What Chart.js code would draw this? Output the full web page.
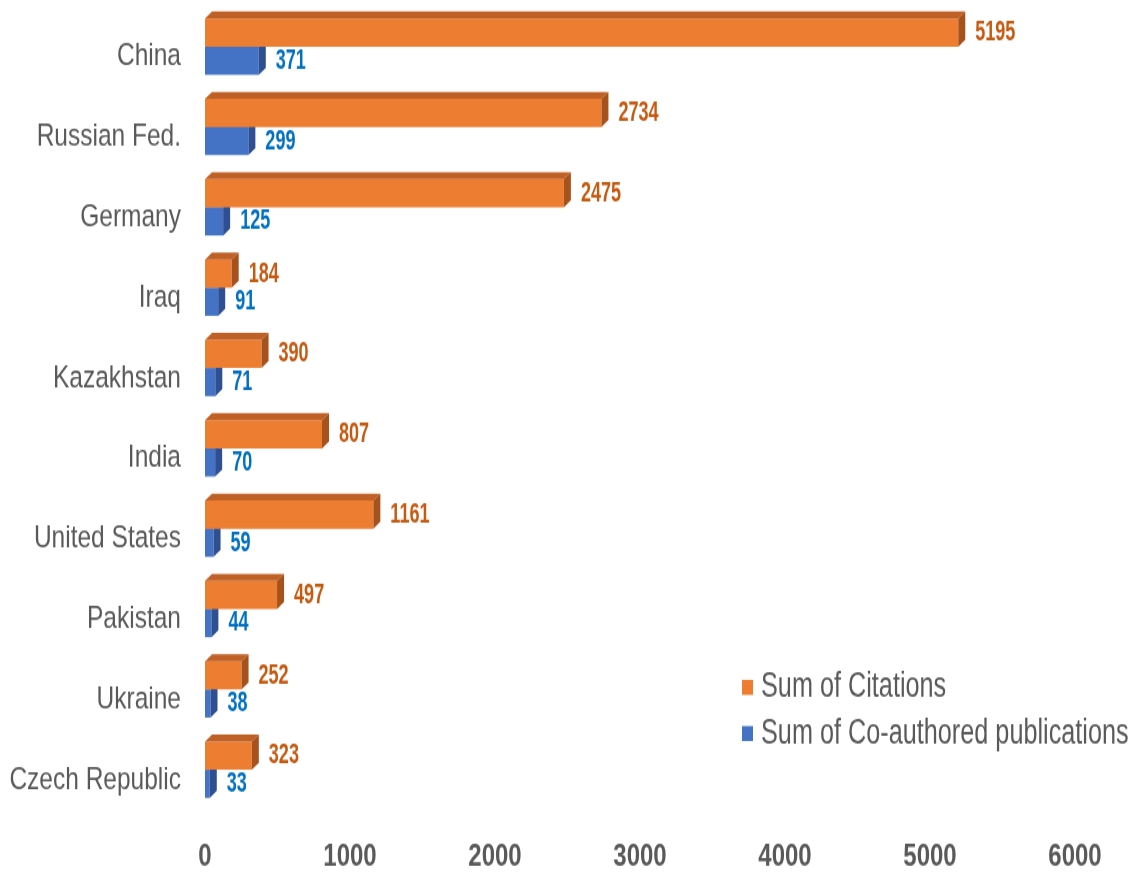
<!DOCTYPE html>
<html>
<head>
<meta charset="utf-8">
<script src="https://cdn.jsdelivr.net/npm/chart.js@4.4.0/dist/chart.umd.min.js"></script>
<style>
  html, body { margin: 0; padding: 0; background: #fff; }
  #wrap { width: 1138px; height: 880px; }
  /* the original picture is stretched vertically, so draw flat and stretch */
  #myChart { transform: scaleY(1.3); transform-origin: 0 0; }
</style>
</head>
<body>
<div id="wrap"><canvas id="myChart" width="1138" height="677"></canvas></div>
<script>
const countries = ['China', 'Russian Fed.', 'Germany', 'Iraq', 'Kazakhstan', 'India',
  'United States', 'Pakistan', 'Ukraine', 'Czech Republic'];
const citations = [5195, 2734, 2475, 184, 390, 807, 1161, 497, 252, 323];
const coauthored = [371, 299, 125, 91, 71, 70, 59, 44, 38, 33];
const xTicks = [0, 1000, 2000, 3000, 4000, 5000, 6000];

const sans = "'Liberation Sans', Arial, sans-serif";
const DX = 7, DY = 5.4; // depth of the fake 3D faces

// top face, right face and value label of every bar
const faces = {
  id: 'faces',
  afterDatasetDraw(chart, args) {
    const ds = chart.data.datasets[args.index];
    const ctx = chart.ctx;
    args.meta.data.forEach((bar, i) => {
      const p = bar.getProps(['x', 'y', 'base', 'height'], true);
      const top = p.y - p.height / 2, bot = p.y + p.height / 2;
      ctx.save();
      ctx.fillStyle = ds.topColor;
      ctx.beginPath();
      ctx.moveTo(p.base, top);
      ctx.lineTo(p.x, top);
      ctx.lineTo(p.x + DX, top - DY);
      ctx.lineTo(p.base + DX, top - DY);
      ctx.closePath();
      ctx.fill();
      ctx.fillStyle = ds.sideColor;
      ctx.beginPath();
      ctx.moveTo(p.x, top);
      ctx.lineTo(p.x + DX, top - DY);
      ctx.lineTo(p.x + DX, bot - DY);
      ctx.lineTo(p.x, bot);
      ctx.closePath();
      ctx.fill();
      // narrow bold value label
      ctx.translate(p.x + DX + 10, p.y);
      ctx.scale(0.82, 1);
      ctx.fillStyle = ds.labelColor;
      ctx.font = 'bold 22px ' + sans;
      ctx.textBaseline = 'middle';
      ctx.textAlign = 'left';
      ctx.fillText(ds.data[i], 0, 0);
      ctx.restore();
    });
  }
};

// legend inside the plot, bottom right
const legendBox = {
  id: 'legendBox',
  afterDraw(chart) {
    const ctx = chart.ctx;
    chart.data.datasets.forEach((ds, i) => {
      const y = 529 + i * 35.5;
      ctx.save();
      ctx.fillStyle = ds.backgroundColor;
      ctx.fillRect(742, y - 6, 11, 11.5);
      ctx.translate(761, y);
      ctx.scale(0.935, 1);
      ctx.fillStyle = '#595959';
      ctx.font = '27px ' + sans;
      ctx.textBaseline = 'middle';
      ctx.textAlign = 'left';
      ctx.fillText(ds.label, 0, 0);
      ctx.restore();
    });
  }
};

const data = {
  labels: countries,
  datasets: [{
    label: 'Sum of Citations',
    data: citations,
    backgroundColor: '#ED7D31',
    topColor: '#BF6127',
    sideColor: '#A7521C',
    labelColor: '#C55A11',
    categoryPercentage: 0.7,
    barPercentage: 1.0
  }, {
    label: 'Sum of Co-authored publications',
    data: coauthored,
    backgroundColor: '#4472C4',
    topColor: '#3A62AA',
    sideColor: '#2E4F91',
    labelColor: '#0070C0',
    categoryPercentage: 0.7,
    barPercentage: 1.0
  }]
};

const config = {
  type: 'bar',
  data: data,
  options: {
    indexAxis: 'y',
    responsive: false,
    animation: false,
    layout: { padding: { top: 5, right: 63, left: 0, bottom: 0 } },
    plugins: { legend: { display: false }, tooltip: { enabled: false } },
    scales: {
      x: {
        min: 0, max: 6000,
        afterBuildTicks: s => { s.ticks = xTicks.map(v => ({ value: v })); },
        grid: { display: false, drawTicks: false },
        border: { display: false },
        ticks: {
          color: '#595959', font: { family: sans, size: 24, weight: 'bold' },
          padding: 22, maxRotation: 0, callback: v => String(v)
        },
        afterFit: s => { s.height = 54; }
      },
      y: {
        grid: { display: false, drawTicks: false },
        border: { display: false },
        ticks: { color: '#595959', font: { family: sans, size: 24.5 }, padding: 24, labelOffset: 7.7 },
        afterFit: s => { s.width = 205; s.paddingTop = 0; s.paddingBottom = 0; }
      }
    }
  },
  plugins: [faces, legendBox]
};

const myChart = new Chart(document.getElementById('myChart'), config);
</script>
</body>
</html>
